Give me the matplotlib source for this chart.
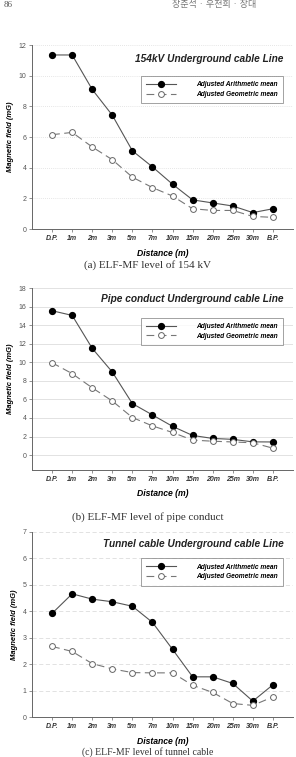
import numpy as np
from matplotlib import pyplot as plt

# categorias del eje x
distances = ['D.P.', '1m', '2m', '3m', '5m', '7m', '10m', '15m', '20m', '25m', '30m', 'B.P.']

# (a) 154 kV
arith_154 = [11.35, 11.35, 9.1, 7.42, 5.1, 4.05, 2.92, 1.9, 1.7, 1.5, 1.07, 1.32]
geo_154 = [6.15, 6.3, 5.35, 4.52, 3.38, 2.7, 2.15, 1.32, 1.21, 1.21, 0.82, 0.76]

# (b) pipe conduct
arith_pipe = [15.55, 15.05, 11.5, 8.95, 5.55, 4.33, 3.1, 2.12, 1.8, 1.7, 1.43, 1.42]
geo_pipe = [9.95, 8.78, 7.25, 5.83, 4.05, 3.15, 2.44, 1.62, 1.5, 1.42, 1.33, 0.75]

# (c) tunnel
arith_tunnel = [3.92, 4.66, 4.46, 4.36, 4.19, 3.58, 2.56, 1.52, 1.52, 1.27, 0.6, 1.22]
geo_tunnel = [2.67, 2.48, 2.02, 1.82, 1.68, 1.67, 1.67, 1.2, 0.93, 0.51, 0.44, 0.76]

titles = ['154kV Underground cable Line',
          'Pipe conduct Underground cable Line',
          'Tunnel cable Underground cable Line']
captions = ['(a) ELF-MF level of 154 kV',
            '(b) ELF-MF level of pipe conduct',
            '(c) ELF-MF level of tunnel cable']

W, H = 296, 757
fig = plt.figure(figsize=(W / 100, H / 100), dpi=100)
fig.patch.set_facecolor('white')


def box(left, top, right, bottom):
    return [left / W, 1 - bottom / H, (right - left) / W, (bottom - top) / H]


panels = [
    (box(32, 45, 293, 229), arith_154, geo_154, (0, 12), np.arange(0, 13, 2),
     (0, (1, 1.5)), 0.924, 0.85),
    (box(32, 288, 293, 470), arith_pipe, geo_pipe, (-1.6, 18), np.arange(0, 19, 2),
     '-', 0.94, 0.855),
    (box(32, 532, 293, 717), arith_tunnel, geo_tunnel, (0, 7), np.arange(0, 8, 1),
     (0, (5, 3)), 0.935, 0.875),
]

x = np.arange(len(distances))
for i, (rect, arith, geo, ylim, yticks, gstyle, ty, ly) in enumerate(panels):
    ax = fig.add_axes(rect)
    ax.plot(x, arith, color='#555555', lw=0.8, marker='o', ms=4.2,
            mfc='black', mec='black', label='Adjusted Arithmetic mean', zorder=3)
    ax.plot(x, geo, color='#777777', lw=0.8, ls=(0, (7, 4)), marker='o', ms=4.2,
            mfc='white', mec='#666666', mew=0.7, label='Adjusted Geometric mean', zorder=3)
    ax.set_xlim(-1, 12)
    ax.set_ylim(*ylim)
    ax.set_yticks(yticks)
    ax.set_xticks(x)
    ax.set_xticklabels(distances, fontsize=5, fontweight='bold', fontstyle='italic',
                       color='#333333', family='Liberation Sans')
    for lab in ax.get_yticklabels():
        lab.set_fontsize(5)
        lab.set_color('#555555')
        lab.set_family('Liberation Sans')
    ax.tick_params(length=2, width=0.5, color='#666666', pad=2)
    ax.grid(axis='y', color='#dddddd', lw=0.6, ls=gstyle)
    ax.set_axisbelow(True)
    for s in ['top', 'right']:
        ax.spines[s].set_visible(False)
    for s in ['left', 'bottom']:
        ax.spines[s].set_color('#666666')
        ax.spines[s].set_linewidth(0.7)
    ax.set_ylabel('Magnetic field (mG)', fontsize=5.5, fontweight='bold',
                  fontstyle='italic', family='Liberation Sans', labelpad=3)
    ax.set_xlabel('Distance (m)', fontsize=6.2, fontweight='bold',
                  fontstyle='italic', family='Liberation Sans', labelpad=5)
    ax.text(0.965, ty, titles[i], transform=ax.transAxes, ha='right', va='center',
            fontsize=7.3, fontweight='bold', fontstyle='italic', family='Liberation Sans',
            color='#222222')
    leg = ax.legend(loc='upper right', bbox_to_anchor=(0.975, ly),
                    handlelength=4.5, fancybox=False, edgecolor='#777777',
                    borderpad=0.8, labelspacing=0.4, handletextpad=3,
                    prop={'weight': 'bold', 'style': 'italic', 'size': 4.8,
                          'family': 'Liberation Sans'})
    leg.get_frame().set_linewidth(0.6)

caption_y = [265, 517, 752]
caption_fs = [8, 8, 7]
for cap, cy, fs in zip(captions, caption_y, caption_fs):
    fig.text(148 / W, 1 - cy / H, cap, ha='center', va='center', fontsize=fs,
             family='Liberation Serif', color='#333333')

# encabezado de la pagina
fig.text(4 / W, 1 - 5 / H, '86', ha='left', va='center', fontsize=6.5,
         family='Liberation Serif', color='#555555')
fig.text(172 / W, 1 - 5 / H, '장준석 · 우전희 · 장대', ha='left', va='center',
         fontsize=6.5, family=['Noto Sans CJK KR', 'DejaVu Sans'], color='#777777')

fig.savefig('out.png', dpi=100)
